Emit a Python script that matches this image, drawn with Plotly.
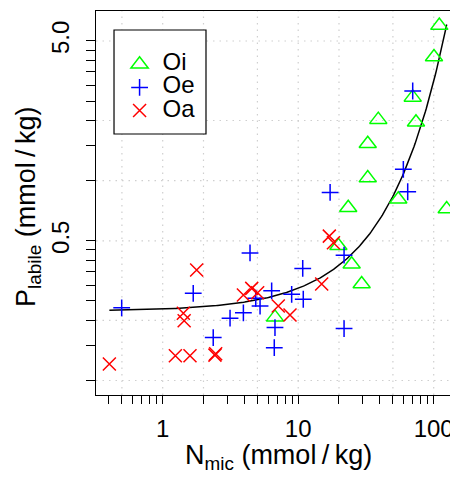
import numpy as np
import plotly.graph_objects as go

# ---- data ----
oi_x = [110, 100.5, 70, 39, 74, 32.6, 32.6, 54.8, 23.4, 124.7, 19.8, 24.8, 29.4, 6.74]
oi_y = [5.97, 4.16, 2.61, 2.02, 1.96, 1.53, 1.03, 0.808, 0.732, 0.721, 0.4725, 0.382, 0.304, 0.207]

oe_x = [70, 59.7, 64.3, 17.2, 21.8, 21.8, 4.41, 10.8, 1.68, 0.498, 6.37, 8.95, 10.9, 4.86, 5.23, 3.94, 3.14, 2.36, 6.74, 6.66]
oe_y = [2.81, 1.14, 0.88, 0.873, 0.424, 0.182, 0.435, 0.364, 0.273, 0.231, 0.281, 0.27, 0.255, 0.258, 0.236, 0.218, 0.205, 0.164, 0.184, 0.146]

oa_x = [16.97, 18.2, 14.9, 1.78, 4.54, 3.94, 5.02, 7.13, 8.7, 1.42, 1.44, 1.24, 1.59, 2.43, 2.46, 0.404]
oa_y = [0.528, 0.489, 0.304, 0.357, 0.289, 0.268, 0.275, 0.236, 0.2126, 0.217, 0.199, 0.133, 0.133, 0.134, 0.136, 0.121]

series_names = ["Oi", "Oe", "Oa"]

# fitted model P = a * exp(b * N)
fit_a = 0.222
fit_b = 0.0265
fit_xmin = 0.404
fit_xmax = 124.7

x_tickvals = [0.4, 0.5, 0.6, 0.7, 0.8, 0.9, 1, 2, 3, 4, 5, 6, 7, 8, 9, 10,
              20, 30, 40, 50, 60, 70, 80, 90, 100]
x_ticklabels = {1: "1", 10: "10", 100: "100"}
y_tickvals = [0.1, 0.15, 0.2, 0.25, 0.3, 0.35, 0.4, 0.45, 0.5,
              1, 1.5, 2, 2.5, 3, 3.5, 4, 4.5, 5]
y_ticklabels = {0.5: "0.5", 5: "5.0"}
x_grid = [0.5, 1, 2, 5, 10, 20, 50, 100]
y_grid = [0.1, 0.2, 0.5, 1, 2, 5]

x_title = "N<sub>mic</sub> (mmol\u2009/\u2009kg)"
y_title = "P<sub>labile</sub> (mmol\u2009/\u2009kg)"

FONT = "Liberation Sans, Arial, sans-serif"
GRID = dict(color="#cfcfcf", width=1.2, dash="1.5px,5px")

fig = go.Figure()

fx = np.logspace(np.log10(fit_xmin), np.log10(fit_xmax), 300)
fy = fit_a * np.exp(fit_b * fx)
fig.add_trace(go.Scatter(x=fx, y=fy, mode="lines", line=dict(color="black", width=1.5),
                         showlegend=False, hoverinfo="skip"))


def lg(name):
    return "<span style='font-size:24px'>%s</span>" % name


fig.add_trace(go.Scatter(x=oi_x, y=oi_y, mode="markers", name=lg(series_names[0]),
                         marker=dict(symbol="triangle-up-open", size=15, color="#00ff00",
                                     line=dict(width=1.5, color="#00ff00"))))
fig.add_trace(go.Scatter(x=oe_x, y=oe_y, mode="markers", name=lg(series_names[1]),
                         marker=dict(symbol="cross-thin-open", size=12, color="#0000ff",
                                     line=dict(width=1.5, color="#0000ff"))))
fig.add_trace(go.Scatter(x=oa_x, y=oa_y, mode="markers", name=lg(series_names[2]),
                         marker=dict(symbol="x-thin-open", size=13, color="#ff0000",
                                     line=dict(width=1.5, color="#ff0000"))))

shapes = []
for gx in x_grid:
    shapes.append(dict(type="line", xref="x", yref="paper", x0=gx, x1=gx, y0=0, y1=1,
                       line=GRID, layer="below"))
for gy in y_grid:
    shapes.append(dict(type="line", xref="paper", yref="y", x0=0, x1=1, y0=gy, y1=gy,
                       line=GRID, layer="below"))
# legend frame (white box, drawn over the grid)
shapes.append(dict(type="rect", xref="paper", yref="paper",
                   x0=0.0499, x1=0.3047, y0=0.6797, y1=0.9505,
                   line=dict(color="black", width=1.2), fillcolor="white", layer="below"))

# page body has an 8px margin: figure is sized/offset so the plot box lands at
# x 96..457, y 11..395 of the window
fig.update_layout(
    width=450, height=469,
    margin=dict(l=88, r=1, t=3, b=82),
    plot_bgcolor="white", paper_bgcolor="white",
    font=dict(family=FONT, size=24, color="black"),
    legend=dict(x=0.057, y=0.9044, xanchor="left", yanchor="top",
                borderwidth=0, bgcolor="rgba(0,0,0,0)",
                font=dict(size=15.5), tracegroupgap=0, itemwidth=36),
    shapes=shapes,
    xaxis=dict(type="log", range=[-0.4923, 2.172], automargin=False,
               tickmode="array", tickvals=x_tickvals,
               ticktext=[x_ticklabels.get(v, "") for v in x_tickvals],
               ticks="outside", ticklen=8, tickwidth=1, tickcolor="black",
               showline=True, linecolor="black", linewidth=1.2, mirror=True,
               showgrid=False, zeroline=False,
               tickfont=dict(size=24), ticklabelstandoff=4),
    yaxis=dict(type="log", range=[-1.0725, 0.849], automargin=False,
               tickmode="array", tickvals=y_tickvals,
               ticktext=[y_ticklabels.get(v, "") for v in y_tickvals],
               ticks="outside", ticklen=9, tickwidth=1, tickcolor="black",
               showline=True, linecolor="black", linewidth=1.2, mirror=True,
               showgrid=False, zeroline=False, tickangle=-90,
               tickfont=dict(size=24), ticklabelstandoff=7),
    annotations=[
        dict(text=x_title, xref="paper", yref="paper",
             x=0.5, y=-0.161, xanchor="center", yanchor="middle", showarrow=False,
             xshift=2, font=dict(size=27)),
        dict(text=y_title, xref="paper", yref="paper",
             x=-0.188, y=0.49, xanchor="center", yanchor="middle", showarrow=False,
             textangle=-90, font=dict(size=27)),
    ],
)

fig.write_html("out.html")
